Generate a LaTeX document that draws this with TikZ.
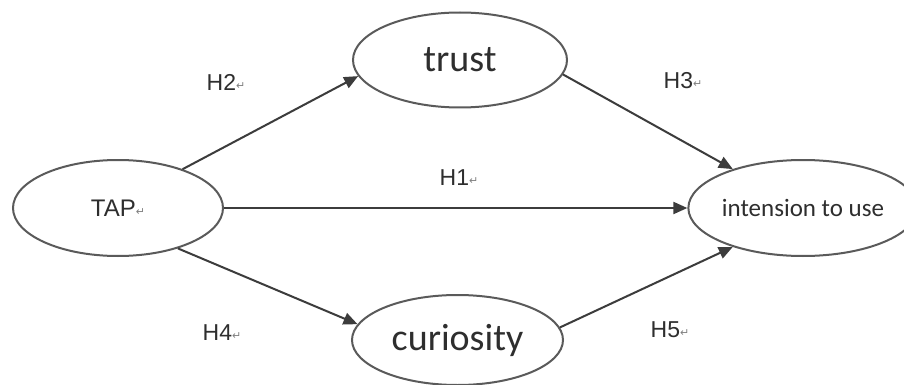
\documentclass[tikz,border=0pt]{standalone}
\usepackage{fontspec}
\setmainfont{Liberation Sans}
\newfontfamily\calib{Carlito}
\newfontfamily\symf{DejaVu Sans}
\usetikzlibrary{shapes.geometric,arrows.meta}
\definecolor{inkc}{HTML}{2E2E2E}
\definecolor{linec}{HTML}{3C3C3C}
\definecolor{ellc}{HTML}{5A5A5A}
\newcommand{\retmark}{{\symf\fontsize{11}{11}\selectfont\color{gray}\raisebox{1pt}{↵}}}
\tikzset{
  x=1pt, y=-1pt,
  oval/.style={ellipse, draw=ellc, line width=2pt, inner sep=0pt, text=inkc},
  arr/.style={draw=linec, line width=2pt, -{Triangle[length=14pt,width=12pt]}},
  hlabel/.style={text=inkc, font=\fontsize{23}{23}\selectfont, inner sep=0pt}
}
\begin{document}
\begin{tikzpicture}
\fill[white] (0,0) rectangle (904,385);
\useasboundingbox (0,0) rectangle (904,385);
\node[oval, minimum width=210pt, minimum height=96pt, font=\fontsize{24}{24}\selectfont] (tap) at (118,208) {TAP\retmark};
\node[oval, minimum width=214pt, minimum height=95pt, font=\calib\fontsize{38}{38}\selectfont] (trust) at (460,60) {trust};
\node[oval, minimum width=211pt, minimum height=90pt, font=\calib\fontsize{38}{38}\selectfont] (cur) at (457.5,340) {curiosity};
\node[oval, minimum width=202pt, minimum height=96pt, font=\calib\fontsize{25}{25}\selectfont] (int) at (803,208) {intension to use};

\draw[arr] (tap.31) -- (trust.189);
\draw[arr] (tap.east) -- (int.west);
\draw[arr] (tap.-34) -- (cur.171);
\draw[arr] (trust.-8) -- (int.151);
\draw[arr] (cur.7) -- (int.209);

\node[hlabel] (h2) at (226,82) {H2\retmark};
\node[hlabel] (h3) at (683,81) {H3\retmark};
\node[hlabel] (h1) at (459,178) {H1\retmark};
\node[hlabel] (h4) at (222,333) {H4\retmark};
\node[hlabel] (h5) at (670,330) {H5\retmark};
\end{tikzpicture}
\end{document}
